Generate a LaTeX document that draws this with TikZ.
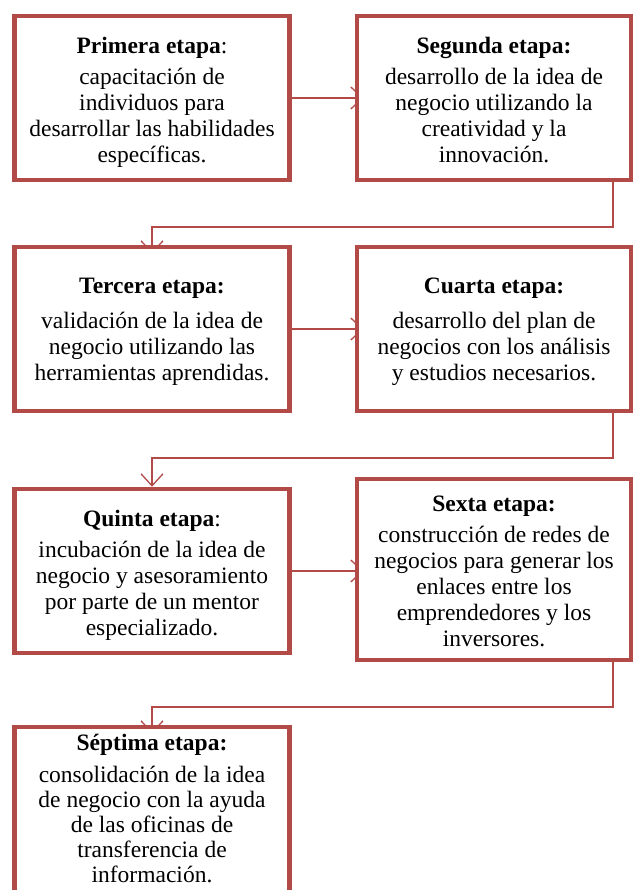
\documentclass[tikz,border=0pt]{standalone}
\usepackage{fontspec}
\setmainfont{Liberation Serif}
\usetikzlibrary{arrows.meta,backgrounds}
\definecolor{boxred}{RGB}{178,74,71}
\tikzset{
  stage/.style={draw=boxred, line width=4.5pt, fill=white, rectangle, inner sep=0pt},
  conn/.style={draw=boxred, line width=1.8pt, -{Straight Barb[length=12pt,width=22pt,line width=1.3pt]}},
  bodytxt/.style={align=center, font=\fontsize{23.5}{26}\selectfont, inner sep=0pt}
}
\begin{document}
\begin{tikzpicture}[x=1pt,y=-1pt]
\clip (0,0) rectangle (633,890);
\node[stage, minimum width=275pt, minimum height=164pt] (b1) at (152,98) {};
\node[stage, minimum width=274pt, minimum height=164pt] (b2) at (494,98) {};
\node[stage, minimum width=275pt, minimum height=164pt] (b3) at (152,329) {};
\node[stage, minimum width=274pt, minimum height=164pt] (b4) at (494,329) {};
\node[stage, minimum width=275pt, minimum height=164pt] (b5) at (152,571) {};
\node[stage, minimum width=274pt, minimum height=181pt] (b6) at (494,569.5) {};
\node[stage, minimum width=275pt, minimum height=232pt] (b7) at (152,843) {};
\node[bodytxt] (t1) at ([yshift=-4.5pt]b1.center) {\textbf{Primera etapa}:\\[5pt]capacitación de\\individuos para\\desarrollar las habilidades\\específicas.};
\node[bodytxt] (t2) at ([yshift=-2.5pt]b2.center) {\textbf{Segunda etapa:}\\[5pt]desarrollo de la idea de\\negocio utilizando la\\creatividad y la\\innovación.};
\node[bodytxt] (t3) at ([yshift=-3pt]b3.center) {\textbf{Tercera etapa:}\\[9pt]validación de la idea de\\negocio utilizando las\\herramientas aprendidas.};
\node[bodytxt] (t4) at ([yshift=-3pt]b4.center) {\textbf{Cuarta etapa:}\\[9pt]desarrollo del plan de\\negocios con los análisis\\y estudios necesarios.};
\node[bodytxt] (t5) at ([yshift=-4.5pt]b5.center) {\textbf{Quinta etapa}:\\[5pt]incubación de la idea de\\negocio y asesoramiento\\por parte de un mentor\\especializado.};
\node[bodytxt] (t6) at ([yshift=-1.5pt]b6.center) {\textbf{Sexta etapa:}\\[5pt]construcción de redes de\\negocios para generar los\\enlaces entre los\\emprendedores y los\\inversores.};
\node[bodytxt, font=\fontsize{23.5}{25.1}\selectfont, anchor=north] (t7) at ([yshift=-9pt]b7.north) {\textbf{Séptima etapa:}\\[7pt]consolidación de la idea\\de negocio con la ayuda\\de las oficinas de\\transferencia de\\información.};
\begin{scope}[on background layer]
  \fill[white] (0,0) rectangle (633,890);
  \draw[conn] (b1.east) -- ([xshift=9pt]b2.west);
  \draw[conn] ([xshift=119pt]b2.south) -- ++(0,45) -| ([yshift=-9pt]b3.north);
  \draw[conn] (b3.east) -- ([xshift=9pt]b4.west);
  \draw[conn] ([xshift=119pt]b4.south) -- ++(0,45) -| (b5.north);
  \draw[conn] (b5.east) -- ([xshift=9pt]b5.east -| b6.west);
  \draw[conn] ([xshift=119pt]b6.south) -- ++(0,45) -| ([yshift=-9pt]b7.north);
\end{scope}
\end{tikzpicture}
\end{document}
